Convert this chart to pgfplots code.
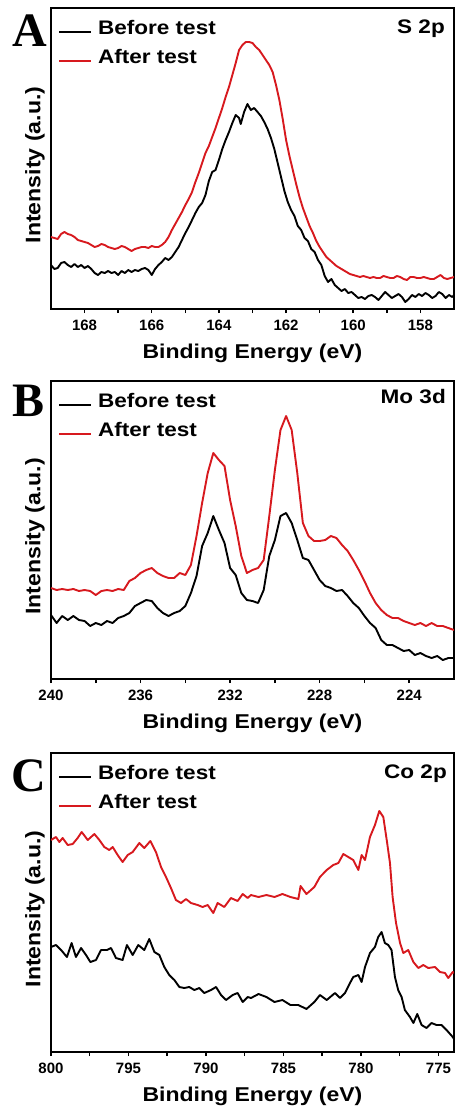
\documentclass[border=0pt]{standalone}
\usepackage{pgfplots}
\pgfplotsset{compat=1.18}
\usepackage{graphicx}
\usepackage{fontspec}
\setmainfont{Liberation Sans}
\newfontfamily\serifbold{Liberation Serif}
\definecolor{xred}{RGB}{215,25,30}

\newcommand\tickf{\fontsize{15}{15}\selectfont\bfseries}
\newcommand\xlabf{\fontsize{20}{22}\selectfont\bfseries}
\newcommand\ylabf{\fontsize{21}{23}\selectfont\bfseries}
\newcommand\legf{\fontsize{19.6}{21}\selectfont\bfseries}
\newcommand\letf{\serifbold\bfseries\fontsize{48}{48}\selectfont}
\newcommand\sq[1]{\scalebox{1.15}[1]{#1}}

\pgfplotsset{
  xps/.style={
    scale only axis, width=403pt, x dir=reverse, ymin=0,
    ytick=\empty,
    axis line style={line width=1.8pt},
    tick align=outside, xtick pos=bottom, ytick pos=left,
    major tick length=4pt, minor tick length=4pt,
    every tick/.style={black, line width=1.5pt},
    xticklabel style={font=\tickf, inner sep=0pt, anchor=north, yshift=-6.5pt},
    /pgf/number format/assume math mode=true,
    /pgf/number format/1000 sep={},
    xlabel={\sq{Binding Energy (eV)}},
    ylabel={\scalebox{1.1}[1]{Intensity (a.u.)}},
    xlabel style={font=\xlabf, at={([yshift=-35pt]rel axis cs:0.5,0)}, anchor=north, inner sep=0pt},
    ylabel style={font=\ylabf, at={([xshift=-16pt,yshift=-6.5pt]rel axis cs:0,0.5)}, anchor=center, inner sep=0pt},
    legend style={at={([xshift=7pt,yshift=-9.6pt]rel axis cs:0,1)}, anchor=north west,
      draw=none, fill=none, inner sep=0pt, row sep=0pt, column sep=6pt,
      font=\legf, nodes={inner sep=0pt, text height=17.1pt, text depth=11.4pt}},
    legend cell align=left,
    legend image code/.code={\draw[#1, line width=1.9pt] (0pt,0pt) -- (32pt,0pt);},
    every axis plot/.append style={line width=1.9pt, line join=round},
  }
}

\begin{document}
\begin{tikzpicture}
\useasboundingbox (0,0) rectangle (456pt,-1111pt);

% ---------------- Panel A ----------------
\begin{axis}[xps, name=pA, at={(51pt,-8pt)}, anchor=north west,
  height=301pt, ymax=301, xmin=157, xmax=169,
  xtick={158,160,...,168}, minor xtick={159,161,...,167}]
\addplot[black] coordinates {
(169.0,44)(168.9,40)(168.8,41)(168.7,46)(168.6,47)(168.5,44)(168.4,42)(168.3,45)(168.2,42)(168.1,44)
(168.0,41)(167.9,43)(167.8,40)(167.7,36)(167.6,34)(167.5,37)(167.4,36)(167.3,38)(167.2,36)(167.1,37)
(167.0,34)(166.9,38)(166.8,36)(166.7,39)(166.6,37)(166.5,39)(166.4,38)(166.3,40)(166.2,41)(166.1,39)
(166.0,34)(165.9,40)(165.8,44)(165.7,47)(165.6,51)(165.5,49)(165.4,52)(165.3,57)(165.2,62)(165.1,69)
(165.0,76)(164.9,82)(164.8,89)(164.7,96)(164.6,102)(164.5,106)(164.4,114)(164.3,128)(164.2,137)(164.1,139)
(164.0,149)(163.9,160)(163.8,169)(163.7,177)(163.6,186)(163.5,194)(163.4,191)(163.35,185)(163.25,197)(163.15,205)
(163.05,199)(162.95,201)(162.85,197)(162.75,193)(162.65,187)(162.55,180)(162.45,171)(162.35,160)(162.25,146)(162.15,132)
(162.05,118)(161.95,107)(161.85,99)(161.75,93)(161.65,83)(161.55,79)(161.45,71)(161.35,68)(161.25,60)(161.15,57)
(161.05,49)(160.95,44)(160.85,33)(160.75,27)(160.65,30)(160.55,24)(160.45,21)(160.35,18)(160.25,20)(160.15,16)
(160.05,17)(159.95,14)(159.85,11)(159.75,12)(159.65,10)(159.55,13)(159.45,14)(159.35,12)(159.25,9)(159.15,13)
(159.05,17)(158.95,14)(158.85,11)(158.75,13)(158.65,15)(158.55,12)(158.45,7)(158.35,10)(158.25,14)(158.15,12)
(158.05,15)(157.95,13)(157.85,16)(157.75,14)(157.65,11)(157.55,13)(157.45,17)(157.35,15)(157.25,11)(157.15,14)
(157.05,12)(157.0,14)};
\addplot[xred] coordinates {
(169.0,72)(168.9,71)(168.8,70)(168.7,75)(168.6,77)(168.5,75)(168.4,74)(168.3,72)(168.2,69)(168.1,68)
(168.0,67)(167.9,66)(167.8,64)(167.7,62)(167.6,63)(167.5,65)(167.4,64)(167.3,62)(167.2,61)(167.1,60)
(167.0,61)(166.9,63)(166.8,62)(166.7,60)(166.6,58)(166.5,60)(166.4,61)(166.3,62)(166.2,62)(166.1,61)
(166.0,63)(165.9,62)(165.8,62)(165.7,64)(165.6,67)(165.5,72)(165.4,79)(165.3,85)(165.2,91)(165.1,97)
(165.0,104)(164.9,110)(164.8,117)(164.7,127)(164.6,136)(164.5,146)(164.4,156)(164.3,163)(164.2,172)(164.1,181)
(164.0,191)(163.9,201)(163.8,212)(163.7,222)(163.6,234)(163.5,246)(163.4,259)(163.3,264)(163.2,267)(163.1,267)
(163.0,266)(162.9,262)(162.8,259)(162.7,254)(162.6,249)(162.5,244)(162.4,237)(162.3,224)(162.2,209)(162.1,190)
(162.0,169)(161.9,153)(161.8,139)(161.7,125)(161.6,112)(161.5,101)(161.4,92)(161.3,83)(161.2,76)(161.1,68)
(161.0,62)(160.9,57)(160.8,52)(160.7,49)(160.6,46)(160.5,43)(160.4,41)(160.3,39)(160.2,37)(160.1,35)
(160.0,34)(159.9,33)(159.8,32)(159.7,33)(159.6,32)(159.5,31)(159.4,32)(159.3,31)(159.2,31)(159.1,33)
(159.0,32)(158.9,31)(158.8,31)(158.7,33)(158.6,32)(158.5,30)(158.4,29)(158.3,32)(158.2,32)(158.1,31)
(158.0,31)(157.9,32)(157.8,31)(157.7,30)(157.6,30)(157.5,32)(157.4,34)(157.3,31)(157.2,30)(157.1,31)
(157.0,32)};
\legend{\sq{Before test},\sq{After test}}
\node[anchor=base east, inner sep=0pt, font=\legf] at ([xshift=-9pt,yshift=-25pt]rel axis cs:1,1) {\sq{S 2p}};
\end{axis}

% ---------------- Panel B ----------------
\begin{axis}[xps, name=pB, at={(51pt,-381pt)}, anchor=north west,
  height=298pt, ymax=298, xmin=222, xmax=240,
  xtick={224,228,232,236,240}, minor xtick={226,230,234,238}]
\addplot[black] coordinates {
(240,64)(239.75,56)(239.5,63)(239.25,59)(239.0,63)(238.75,59)(238.5,58)(238.25,53)(238.0,56)(237.75,54)
(237.5,58)(237.25,56)(237.0,61)(236.75,63)(236.5,66)(236.25,73)(236.0,76)(235.75,79)(235.5,78)(235.25,71)
(235.0,66)(234.75,63)(234.5,66)(234.25,68)(234.0,73)(233.75,86)(233.5,103)(233.25,133)(233.0,146)(232.75,163)
(232.5,149)(232.25,136)(232.0,111)(231.75,104)(231.5,86)(231.25,79)(231.0,78)(230.75,76)(230.5,89)(230.25,123)
(230.0,139)(229.75,163)(229.5,166)(229.25,156)(229.0,139)(228.75,121)(228.5,119)(228.25,109)(228.0,99)(227.75,93)
(227.5,91)(227.25,88)(227.0,89)(226.75,83)(226.5,76)(226.25,71)(226.0,63)(225.75,56)(225.5,51)(225.25,39)
(225.0,34)(224.75,34)(224.5,31)(224.25,28)(224.0,29)(223.75,24)(223.5,26)(223.25,23)(223.0,21)(222.75,23)
(222.5,19)(222.25,21)(222.0,21)};
\addplot[xred] coordinates {
(240,91)(239.75,89)(239.5,90)(239.25,89)(239.0,90)(238.75,88)(238.5,89)(238.25,88)(238.0,84)(237.75,88)
(237.5,89)(237.25,88)(237.0,90)(236.75,89)(236.5,98)(236.25,101)(236.0,106)(235.75,109)(235.5,111)(235.25,106)
(235.0,103)(234.75,101)(234.5,101)(234.25,106)(234.0,104)(233.75,114)(233.5,143)(233.25,176)(233.0,206)(232.75,226)
(232.5,219)(232.25,213)(232.0,179)(231.75,153)(231.5,123)(231.25,106)(231.0,109)(230.75,111)(230.5,119)(230.25,163)
(230.0,209)(229.75,249)(229.5,263)(229.25,249)(229.0,206)(228.75,156)(228.5,143)(228.25,138)(228.0,138)(227.75,139)
(227.5,143)(227.25,141)(227.0,134)(226.75,128)(226.5,119)(226.25,109)(226.0,98)(225.75,86)(225.5,76)(225.25,69)
(225.0,64)(224.75,61)(224.5,61)(224.25,58)(224.0,56)(223.75,54)(223.5,56)(223.25,53)(223.0,56)(222.75,53)
(222.5,53)(222.25,51)(222.0,49)};
\legend{\sq{Before test},\sq{After test}}
\node[anchor=base east, inner sep=0pt, font=\legf] at ([xshift=-8pt,yshift=-22pt]rel axis cs:1,1) {\sq{Mo 3d}};
\end{axis}

% ---------------- Panel C ----------------
\begin{axis}[xps, name=pC, at={(51pt,-753pt)}, anchor=north west,
  height=299pt, ymax=299, xmin=774, xmax=800,
  xtick={775,780,...,800}, minor xtick={777.5,782.5,787.5,792.5,797.5}]
\addplot[black] coordinates {
(800,105)(799.68,107)(799.35,102)(798.97,95)(798.67,109)(798.39,95)(798.06,104)(797.74,97)(797.46,90)(797.10,92)
(796.77,102)(796.39,102)(796.13,104)(795.81,94)(795.38,92)(795.10,107)(794.73,97)(794.37,107)(793.98,102)(793.66,113)
(793.33,100)(793.01,97)(792.69,85)(792.37,77)(792.04,72)(791.72,65)(791.40,64)(791.08,65)(790.75,62)(790.43,64)
(790.11,59)(789.68,62)(789.35,65)(789.03,57)(788.71,52)(788.28,57)(787.96,59)(787.63,50)(787.31,55)(787.10,54)
(786.61,58)(786.10,55)(785.58,50)(785.07,52)(784.55,47)(784.04,47)(783.52,43)(783.01,50)(782.65,57)(782.21,52)
(781.68,59)(781.36,54)(781.03,59)(780.71,69)(780.50,75)(780.17,77)(779.96,70)(779.74,85)(779.42,99)(779.10,105)
(778.89,115)(778.67,120)(778.46,109)(778.24,107)(778.03,102)(777.81,75)(777.60,62)(777.38,55)(777.17,42)(776.84,35)
(776.62,29)(776.37,38)(776.09,27)(775.77,24)(775.45,29)(775.13,27)(774.80,27)(774.48,22)(774.08,15)(774.0,13)};
\addplot[xred] coordinates {
(800,212)(799.68,215)(799.46,210)(799.25,214)(798.92,207)(798.60,208)(798.28,214)(798.02,220)(797.63,212)(797.20,218)
(796.88,212)(796.56,205)(796.24,202)(796.02,205)(795.70,197)(795.38,190)(795.05,197)(794.73,200)(794.30,209)(793.98,204)
(793.59,211)(793.23,200)(792.90,185)(792.58,175)(792.26,164)(791.94,152)(791.61,149)(791.29,153)(790.97,149)(790.54,147)
(790.22,145)(789.89,147)(789.53,139)(789.25,149)(788.82,145)(788.39,154)(787.96,151)(787.63,158)(787.31,154)(787.10,157)
(786.61,155)(786.10,157)(785.58,155)(785.07,158)(784.55,155)(784.04,153)(783.90,166)(783.52,158)(783.01,165)(782.65,175)
(782.21,182)(781.79,187)(781.46,189)(781.14,198)(780.82,195)(780.50,192)(780.17,182)(779.96,197)(779.74,192)(779.42,215)
(779.10,227)(778.82,241)(778.56,235)(778.34,212)(778.13,189)(777.96,155)(777.74,129)(777.48,109)(777.27,99)(776.95,102)
(776.62,90)(776.30,84)(775.98,87)(775.66,84)(775.23,85)(774.90,80)(774.58,79)(774.37,74)(774.08,80)(774.0,79)};
\legend{\sq{Before test},\sq{After test}}
\node[anchor=base east, inner sep=0pt, font=\legf] at ([xshift=-7pt,yshift=-25pt]rel axis cs:1,1) {\sq{Co 2p}};
\end{axis}

\node[font=\letf, inner sep=0pt] at ([xshift=-21.5pt,yshift=-23pt]pA.north west) {A};
\node[font=\letf, inner sep=0pt] at ([xshift=-22pt,yshift=-20pt]pB.north west) {B};
\node[font=\letf, inner sep=0pt] at ([xshift=-22pt,yshift=-23pt]pC.north west) {C};
\end{tikzpicture}
\end{document}
